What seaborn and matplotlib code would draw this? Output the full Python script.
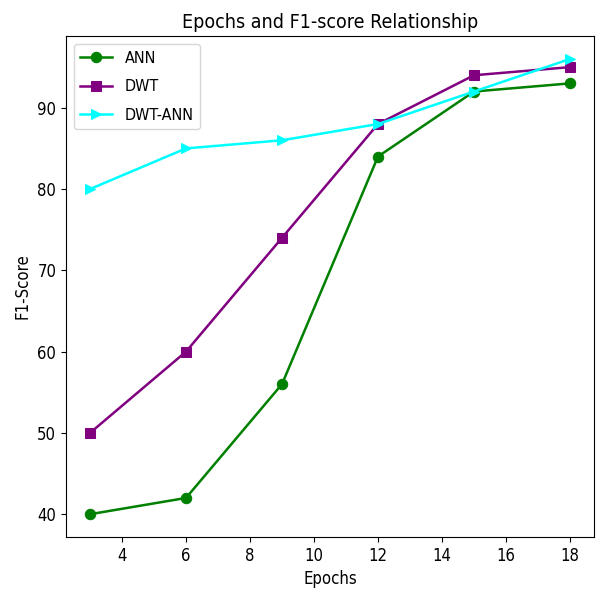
import pandas as pd
import matplotlib
matplotlib.use('Agg')
import matplotlib.pyplot as plt
import seaborn as sns

epochs = [3, 6, 9, 12, 15, 18]
ann = [40, 42, 56, 84, 92, 93]
dwt = [50, 60, 74, 88, 94, 95]
dwt_ann = [80, 85, 86, 88, 92, 96]

series_names = ['ANN', 'DWT', 'DWT-ANN']
colors = ['green', 'purple', 'cyan']
markers = ['o', 's', '>']

df = pd.DataFrame({'Epochs': epochs * 3,
                   'F1': ann + dwt + dwt_ann,
                   'Model': sum([[n] * len(epochs) for n in series_names], [])})

plt.rcParams['font.family'] = ['DejaVu Sans']
plt.rcParams['font.stretch'] = 'condensed'

fig = plt.figure(figsize=(6, 5.94), dpi=100)
ax = fig.add_axes([0.11, 0.096, 0.88, 0.843])

for name, col, mk in zip(series_names, colors, markers):
    sub = df[df['Model'] == name]
    sns.lineplot(x='Epochs', y='F1', data=sub, ax=ax, color=col, marker=mk,
                 markersize=7.5, markeredgecolor=col, linewidth=1.8, label=name)

ax.set_title('Epochs and F1-score Relationship', fontsize=14)
ax.set_xlabel('Epochs', fontsize=12)
ax.set_ylabel('F1-Score', fontsize=12)
ax.set_xticks([4, 6, 8, 10, 12, 14, 16, 18])
ax.set_yticks([40, 50, 60, 70, 80, 90])
ax.tick_params(labelsize=12)
ax.legend(loc='upper left', fontsize=11.5, labelspacing=0.85, handlelength=2.0)

plt.savefig('out.png')
